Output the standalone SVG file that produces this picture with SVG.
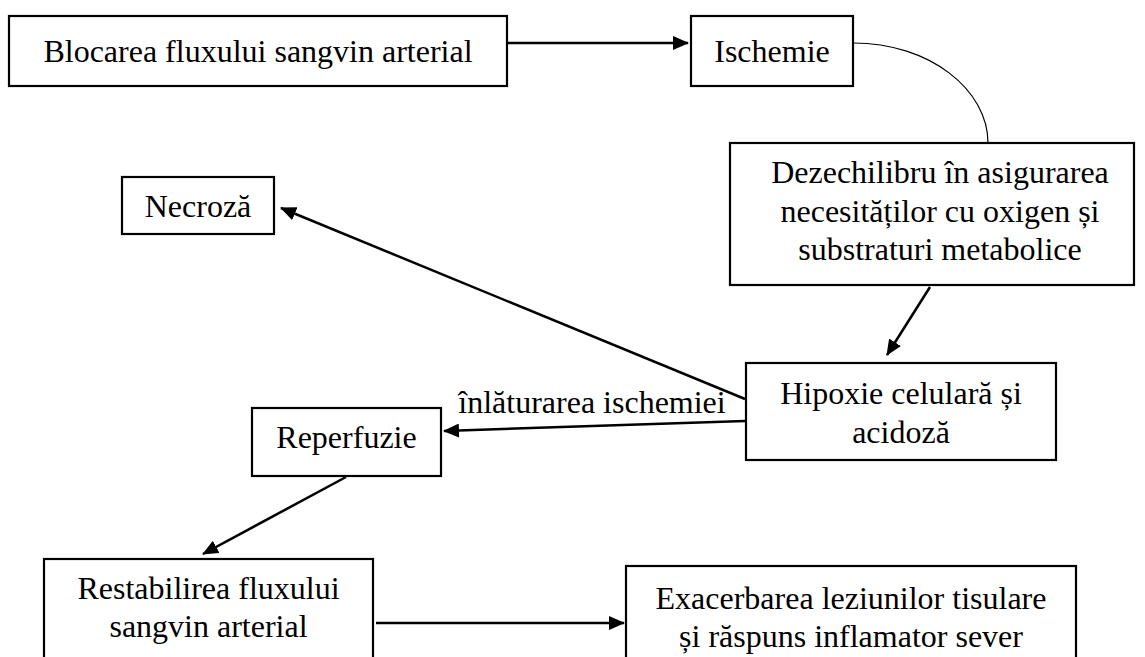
<svg xmlns="http://www.w3.org/2000/svg" width="1145" height="657" viewBox="0 0 1145 657">
<style>
  .box { fill: #fff; stroke: #000; stroke-width: 2.2; }
  .t { font-family: "Liberation Serif", "Times New Roman", serif; font-size: 32px; fill: #000; text-anchor: middle; }
  .ln { stroke: #000; stroke-width: 2.5; fill: none; }
  .arr { marker-end: url(#ah); }
  .thin { stroke: #000; stroke-width: 1.2; fill: none; }
</style>
<defs>
  <marker id="ah" markerUnits="userSpaceOnUse" markerWidth="16" markerHeight="14" viewBox="0 0 16 14" refX="15" refY="7" orient="auto">
    <path d="M0,0 L16,7 L0,14 z" fill="#000"/>
  </marker>
</defs>
<rect width="1145" height="657" fill="#fff"/>
<g id="connectors">
  <line class="ln arr" x1="508" y1="43" x2="688" y2="43"/>
  <path class="thin" d="M853,43 C930,43 988,90 988,143"/>
  <line class="ln arr" x1="930" y1="287" x2="887" y2="355"/>
  <line class="ln arr" x1="745" y1="399" x2="281" y2="208"/>
  <line class="ln arr" x1="745" y1="421" x2="444" y2="431"/>
  <text class="t" x="592" y="413">înlăturarea ischemiei</text>
  <line class="ln arr" x1="346" y1="477" x2="203" y2="554"/>
  <line class="ln arr" x1="376" y1="623" x2="624" y2="623"/>
</g>
<g id="n-blocarea">
  <rect class="box" x="9" y="16" width="498" height="70"/>
  <text class="t" x="258" y="62">Blocarea fluxului sangvin arterial</text>
</g>
<g id="n-ischemie">
  <rect class="box" x="691" y="16" width="162" height="70"/>
  <text class="t" x="772" y="62">Ischemie</text>
</g>
<g id="n-dezechilibru">
  <rect class="box" x="730" y="143" width="404" height="142"/>
  <text class="t" x="940" y="183">Dezechilibru în asigurarea</text>
  <text class="t" x="940" y="222">necesităților cu oxigen și</text>
  <text class="t" x="940" y="260">substraturi metabolice</text>
</g>
<g id="n-necroza">
  <rect class="box" x="122" y="177" width="152" height="57"/>
  <text class="t" x="198" y="217">Necroză</text>
</g>
<g id="n-hipoxie">
  <rect class="box" x="746" y="363" width="310" height="97"/>
  <text class="t" x="901" y="404">Hipoxie celulară și</text>
  <text class="t" x="901" y="443">acidoză</text>
</g>
<g id="n-reperfuzie">
  <rect class="box" x="252" y="408" width="189" height="68"/>
  <text class="t" x="346.5" y="448">Reperfuzie</text>
</g>
<g id="n-restabilirea">
  <rect class="box" x="44" y="559" width="329" height="120"/>
  <text class="t" x="208.5" y="599">Restabilirea fluxului</text>
  <text class="t" x="208.5" y="637">sangvin arterial</text>
</g>
<g id="n-exacerbarea">
  <rect class="box" x="626" y="566" width="450" height="120"/>
  <text class="t" x="851" y="609">Exacerbarea leziunilor tisulare</text>
  <text class="t" x="851" y="647">și răspuns inflamator sever</text>
</g>
</svg>
